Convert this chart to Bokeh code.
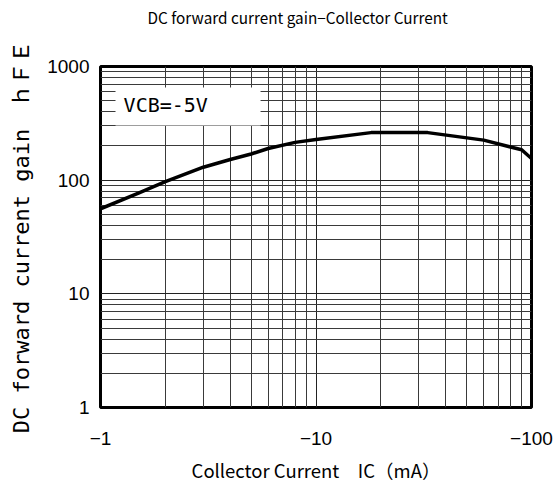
from bokeh.plotting import figure
from bokeh.models import Range1d, FixedTicker, CustomJSTickFormatter, BoxAnnotation, Label, Title
from bokeh.embed import file_html
from bokeh.resources import INLINE

# ---- data ----
ic_ma = [1, 1.5, 2, 3, 4, 5, 6, 8, 10, 18, 33, 60, 90, 100]        # |IC| in mA
hfe = [56, 77, 97, 130, 152, 170, 190, 215, 228, 262, 262, 225, 185, 155]

x_ticks = [1, 10, 100]
x_labels = ["\u22121", "\u221210", "\u2212100"]
x_minor = [2, 3, 4, 5, 6, 7, 8, 9, 20, 30, 40, 50, 60, 70, 80, 90]
y_ticks = [1, 10, 100, 1000]
y_labels = ["1", "10", "100", "1000"]
y_minor = [2, 3, 4, 5, 6, 7, 8, 9, 20, 30, 40, 50, 60, 70, 80, 90,
           200, 300, 400, 500, 600, 700, 800, 900]

title_text = "DC forward current gain\u2212Collector Current"
x_title = "Collector Current\u3000IC\uff08mA\uff09"
y_title = "DC forward current gain\u3000\uff48\uff26\uff25"
legend_text = "VCB=-5V"

# legend-box placement (data units of the log axes)
legend_box = dict(left=1.174, right=5.53, bottom=303, top=653)
legend_pos = dict(x=1.28, y=463)

p = figure(frame_width=431, frame_height=341, x_axis_type="log", y_axis_type="log",
           x_range=Range1d(1, 100), y_range=Range1d(1, 1000),
           output_backend="svg", toolbar_location=None, title=None,
           min_border_left=100, min_border_right=27,
           min_border_top=66, min_border_bottom=79)

p.background_fill_color = "white"
p.border_fill_color = "white"
p.outline_line_color = "black"
p.outline_line_width = 3

xt = FixedTicker(ticks=x_ticks, minor_ticks=x_minor)
yt = FixedTicker(ticks=y_ticks, minor_ticks=y_minor)
p.xaxis.ticker = xt
p.yaxis.ticker = yt
p.xgrid.ticker = xt
p.ygrid.ticker = yt

p.xaxis.formatter = CustomJSTickFormatter(args=dict(t=x_ticks, l=x_labels),
    code="const i = t.indexOf(tick); return i >= 0 ? l[i] : '';")
p.yaxis.formatter = CustomJSTickFormatter(args=dict(t=y_ticks, l=y_labels),
    code="const i = t.indexOf(tick); return i >= 0 ? l[i] : '';")

for g in (p.xgrid, p.ygrid):
    g.grid_line_color = "#222222"
    g.grid_line_width = 1
    g.minor_grid_line_color = "#3a3a3a"
    g.minor_grid_line_width = 1

for ax in (p.xaxis, p.yaxis):
    ax.axis_line_color = None
    ax.major_tick_line_color = None
    ax.minor_tick_line_color = None
    ax.major_tick_out = 0
    ax.major_tick_in = 0
    ax.minor_tick_out = 0
    ax.minor_tick_in = 0
    ax.major_label_text_font = "Liberation Sans"
    ax.major_label_text_font_size = "19px"
    ax.major_label_text_color = "black"
    ax.axis_label_text_font_style = "normal"
    ax.axis_label_text_color = "black"

p.yaxis.major_label_standoff = 11
p.xaxis.major_label_standoff = 24
p.yaxis.axis_label = y_title
p.yaxis.axis_label_text_font = "DejaVu Sans Mono, Noto Sans CJK JP"
p.yaxis.axis_label_text_font_size = "22px"
p.yaxis.axis_label_standoff = 10
p.xaxis.axis_label = x_title
p.xaxis.axis_label_text_font = "Noto Sans CJK JP"
p.xaxis.axis_label_text_font_size = "18.5px"
p.xaxis.axis_label_standoff = 9

# spacer next to the frame, then the real title above it
p.add_layout(Title(text=" ", text_font_size="1px", standoff=36), "above")
p.add_layout(Title(text=title_text, align="left", offset=47, standoff=0,
                   text_font="Noto Sans CJK JP", text_font_size="15.3px",
                   text_font_style="normal", text_color="black"), "above")

p.line(ic_ma, hfe, line_color="black", line_width=3.5)

p.add_layout(BoxAnnotation(fill_color="white", fill_alpha=1, line_color=None,
                           level="annotation", **legend_box))
p.add_layout(Label(text=legend_text, text_font="DejaVu Sans Mono",
                   text_font_size="20px", text_baseline="middle",
                   text_color="black", **legend_pos))

open("out.html", "w").write(file_html(p, INLINE))
